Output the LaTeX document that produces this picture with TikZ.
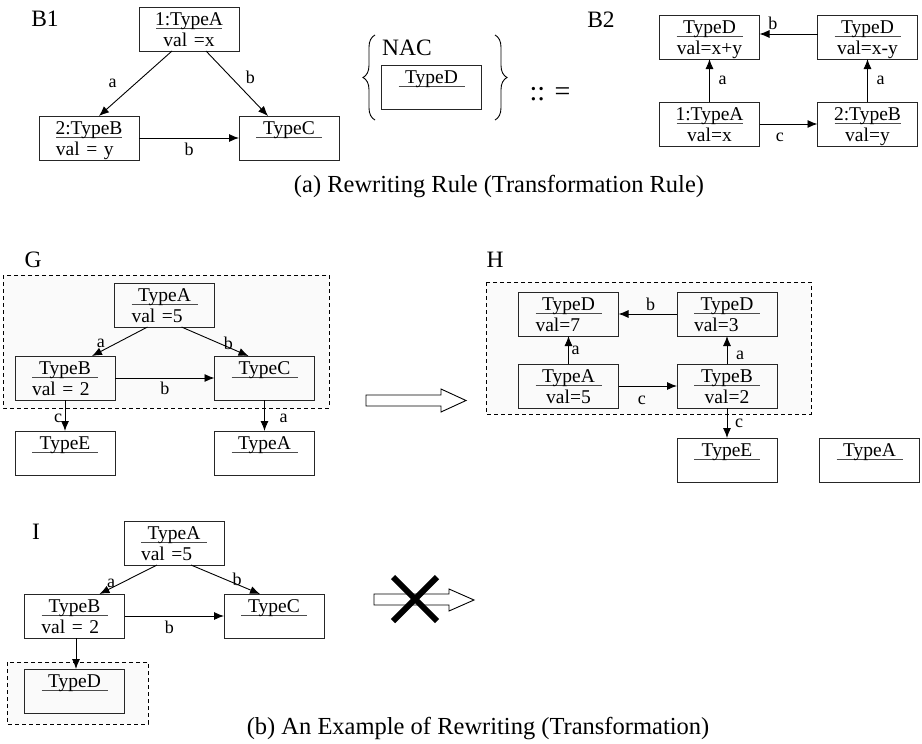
\documentclass[tikz,border=0pt]{standalone}
\usepackage{fontspec}
\setmainfont{Liberation Serif}
\usetikzlibrary{arrows.meta,decorations.pathreplacing}

\newcommand{\obj}[5][center]{%
\node[obj] (#2) at (#3) {};
\draw[sepline] ([xshift=-33pt,yshift=-21pt]#2.north) -- ([xshift=33pt,yshift=-21pt]#2.north);
\node[otext,anchor=base] at ([yshift=-18pt]#2.north) {#4};
\node[otext,anchor=base,text width=66pt,align=#1] at ([yshift=-39pt]#2.north) {#5};
}

\begin{document}
\begin{tikzpicture}[x=1pt,y=-1pt,inner sep=0pt,outer sep=0pt,line width=.9pt,
>={Latex[length=10pt,width=8pt]},
obj/.style={draw=black!85,rectangle,minimum width=100pt,minimum height=44pt,line width=.9pt},
sepline/.style={draw=black!70,line width=.9pt},
otext/.style={font=\fontsize{19.5}{21}\selectfont,inner sep=0pt},
lbl/.style={font=\fontsize{18}{19}\selectfont,inner sep=1pt},
big/.style={font=\fontsize{23.5}{26}\selectfont,inner sep=0pt},
region/.style={draw,dash pattern=on 4pt off 3pt,fill=black!2,line width=.9pt},
hollow/.style={draw,fill=white,line width=.9pt}]
\useasboundingbox (0,0) rectangle (922,744);

\node[big] (lB1) at (45,19) {B1};
\obj{b1a}{189,29}{1:TypeA}{val =x}
\obj[left]{b1b}{89,138}{2:TypeB}{val = y}
\obj{b1c}{289,138}{TypeC}{}
\draw[->] ([xshift=-17pt]b1a.south) -- ([xshift=10pt]b1b.north) node[lbl,midway,left=18pt] {a};
\draw[->] ([xshift=17pt]b1a.south) -- ([xshift=-21pt]b1c.north) node[lbl,pos=.4,right=14pt] {b};
\draw[->] (b1b.east) -- (b1c.west) node[lbl,midway,below=4pt] {b};

\draw[decorate,decoration={brace,amplitude=12pt}] (375,120) -- (375,35);
\draw[decorate,decoration={brace,amplitude=12pt}] (495,35) -- (495,120);
\node[big] (nac) at (407,48) {NAC};
\obj{nacd}{431.5,87}{TypeD}{}
\node[font=\fontsize{28}{30}\selectfont] (rew) at (550,94) {:: =};

\node[big] (lB2) at (601,20) {B2};
\obj{b2d1}{709.5,37}{TypeD}{val=x+y}
\obj{b2d2}{867.5,37}{TypeD}{val=x-y}
\obj{b2a}{709.5,124}{1:TypeA}{val=x}
\obj{b2b}{867.5,124}{2:TypeB}{val=y}
\draw[->] (b2a.north) -- (b2d1.south) node[lbl,midway,right=8pt] {a};
\draw[->] (b2b.north) -- (b2d2.south) node[lbl,midway,right=8pt] {a};
\draw[->] ([yshift=3pt]b2d2.west) -- ([yshift=3pt]b2d1.east) node[lbl,pos=.77,above=3pt] {b};
\draw[->] (b2a.east) -- (b2b.west) node[lbl,pos=.35,below=8pt] {c};

\node[font=\fontsize{24.5}{27}\selectfont] (capa) at (499,187) {(a) Rewriting Rule (Transformation Rule)};

\node[big] (lG) at (33,260) {G};
\draw[region] (3,275) rectangle (329,408);
\obj[left]{ga}{164.5,305}{TypeA}{val =5}
\obj[left]{gb}{65,378}{TypeB}{val = 2}
\obj{gc}{264.5,378}{TypeC}{}
\obj{ge}{65,453}{TypeE}{}
\obj{ga2}{264.5,453}{TypeA}{}
\draw[->] ([xshift=-17pt]ga.south) -- ([xshift=27pt]gb.north) node[lbl,pos=.75,above left=0pt] {a};
\draw[->] ([xshift=17pt]ga.south) -- ([xshift=-16pt]gc.north) node[lbl,pos=.7,above=-3pt] {b};
\draw[->] (gb.east) -- (gc.west) node[lbl,midway,below=3pt] {b};
\draw[->] (gb.south) -- (ge.north) node[lbl,pos=.6,left=2pt] {c};
\draw[->] (gc.south) -- (ga2.north) node[lbl,pos=.6,right=14pt] {a};

\draw[hollow] (366,395) -- (441,395) -- (441,389) -- (466,400.5) -- (441,412) -- (441,406) -- (366,406) -- cycle;

\node[big] (lH) at (495,260) {H};
\draw[region] (486,282) rectangle (811,414);
\obj[left]{hd1}{568.5,314}{TypeD}{val=7}
\obj[left]{hd2}{727,314}{TypeD}{val=3}
\obj{ha}{568.5,386}{TypeA}{val=5}
\obj{hb}{727,386}{TypeB}{val=2}
\obj{he}{727,460}{TypeE}{}
\obj{ha2}{869.5,460}{TypeA}{}
\draw[->] (ha.north) -- (hd1.south) node[lbl,midway,right=2pt] {a};
\draw[->] (hb.north) -- (hd2.south) node[lbl,pos=.3,right=8pt] {a};
\draw[->] (hd2.west) -- (hd1.east) node[lbl,pos=.45,above=2pt] {b};
\draw[->] (ha.east) -- (hb.west) node[lbl,pos=.4,below=9pt] {c};
\draw[->] (hb.south) -- (he.north) node[lbl,midway,right=7pt] {c};

\node[big] (lI) at (36,532) {I};
\draw[region] (7,662) rectangle (148,724);
\obj[left]{ia}{174,543}{TypeA}{val =5}
\obj[left]{ib}{74.5,616}{TypeB}{val = 2}
\obj{ic}{274,616}{TypeC}{}
\obj{id}{74.5,691}{TypeD}{}
\draw[->] ([xshift=-17pt]ia.south) -- ([xshift=25pt]ib.north) node[lbl,pos=.8,above=0pt] {a};
\draw[->] ([xshift=17pt]ia.south) -- ([xshift=-14pt]ic.north) node[lbl,pos=.67,above=-2pt] {b};
\draw[->] (ib.east) -- (ic.west) node[lbl,pos=.45,below=4pt] {b};
\draw[->] ([xshift=1.5pt]ib.south) -- ([xshift=1.5pt]id.north);

\draw[hollow] (374,594) -- (449,594) -- (449,589) -- (474,600) -- (449,611) -- (449,605) -- (374,605) -- cycle;
\draw[line width=6pt] (393,577) -- (437,621) (437,577) -- (393,621);

\node[font=\fontsize{24.5}{27}\selectfont] (capb) at (478,729) {(b) An Example of Rewriting (Transformation)};
\end{tikzpicture}
\end{document}
